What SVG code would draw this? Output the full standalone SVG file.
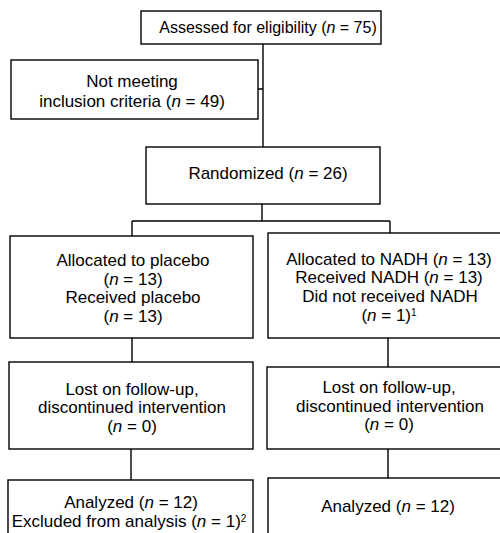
<svg xmlns="http://www.w3.org/2000/svg" width="500" height="533" viewBox="0 0 500 533">
<style>
.box{fill:#fff;stroke:#000;stroke-width:1.4}
.ln{fill:none;stroke:#000;stroke-width:1.4}
text{font-family:"Liberation Sans",Arial,sans-serif;font-size:17px;fill:#000;text-anchor:middle}
.i{font-style:italic}
.sup{font-size:10px}
</style>
<rect width="500" height="533" fill="#fff"/>
<g id="connectors">
<path class="ln" d="M263 44V147M258 89H263"/>
<path class="ln" d="M262 204V221M132 221H390M132 221V236M390 221V233"/>
<path class="ln" d="M132 338V362M388 338V367"/>
<path class="ln" d="M131 449V480M388 449V478"/>
</g>
<g id="assessed">
<rect class="box" x="141" y="11" width="240" height="33"/>
<text x="268" y="33" style="font-size:16px">Assessed for eligibility (<tspan class="i">n</tspan> = 75)</text>
</g>
<g id="excluded">
<rect class="box" x="11" y="60" width="247" height="59"/>
<text x="132" y="87">Not meeting</text>
<text x="132" y="107">inclusion criteria (<tspan class="i">n</tspan> = 49)</text>
</g>
<g id="randomized">
<rect class="box" x="146" y="147" width="234" height="57"/>
<text x="268" y="179">Randomized (<tspan class="i">n</tspan> = 26)</text>
</g>
<g id="alloc-placebo">
<rect class="box" x="10" y="236" width="243" height="102"/>
<text x="133" y="266">Allocated to placebo</text>
<text x="133" y="285">(<tspan class="i">n</tspan> = 13)</text>
<text x="133" y="303">Received placebo</text>
<text x="133" y="322">(<tspan class="i">n</tspan> = 13)</text>
</g>
<g id="alloc-nadh">
<rect class="box" x="268" y="233" width="260" height="105"/>
<text x="389" y="265">Allocated to NADH (<tspan class="i">n</tspan> = 13)</text>
<text x="389" y="283">Received NADH (<tspan class="i">n</tspan> = 13)</text>
<text x="390" y="302">Did not received NADH</text>
<text x="389" y="321">(<tspan class="i">n</tspan> = 1)<tspan class="sup" dy="-5">1</tspan></text>
</g>
<g id="lost-placebo">
<rect class="box" x="9" y="362" width="244" height="87"/>
<text x="132" y="395">Lost on follow-up,</text>
<text x="132" y="413">discontinued intervention</text>
<text x="132" y="432">(<tspan class="i">n</tspan> = 0)</text>
</g>
<g id="lost-nadh">
<rect class="box" x="267" y="367" width="260" height="82"/>
<text x="389" y="393">Lost on follow-up,</text>
<text x="390" y="412">discontinued intervention</text>
<text x="389" y="430">(<tspan class="i">n</tspan> = 0)</text>
</g>
<g id="analyzed-placebo">
<rect class="box" x="8" y="480" width="245" height="70"/>
<text x="131" y="508">Analyzed (<tspan class="i">n</tspan> = 12)</text>
<text x="129" y="527">Excluded from analysis (<tspan class="i">n</tspan> = 1)<tspan class="sup" dy="-5">2</tspan></text>
</g>
<g id="analyzed-nadh">
<rect class="box" x="268" y="478" width="260" height="70"/>
<text x="388" y="512">Analyzed (<tspan class="i">n</tspan> = 12)</text>
</g>
</svg>
